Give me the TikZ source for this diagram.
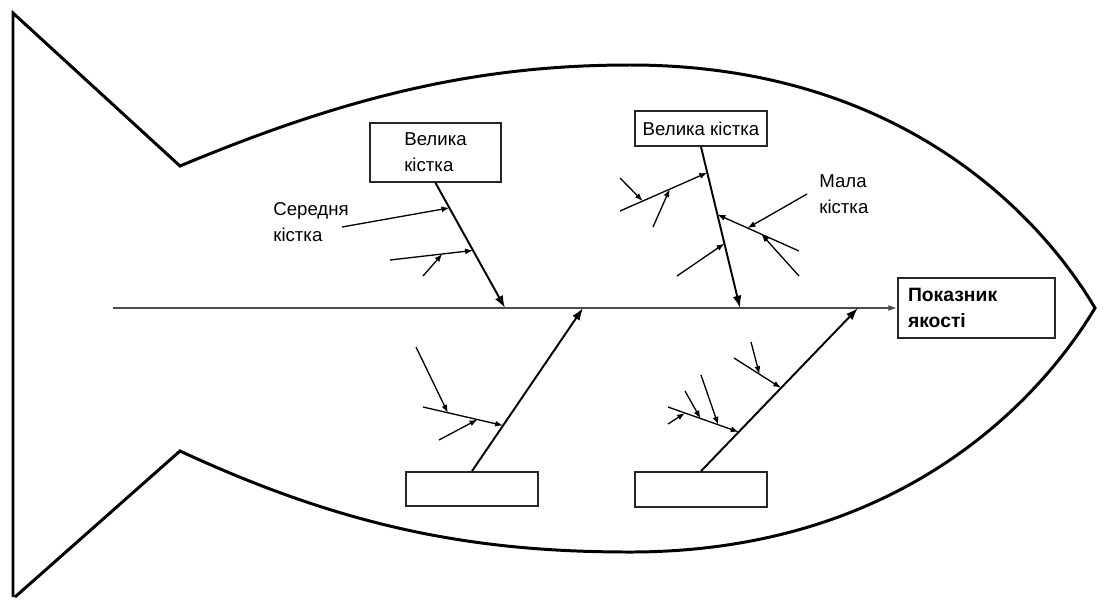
\documentclass[tikz,border=0pt]{standalone}
\usepackage{fontspec}
\setmainfont{Liberation Sans}
\usepackage{tikz}
\usetikzlibrary{arrows.meta, positioning, calc}

\begin{document}
\begin{tikzpicture}[x=0.02cm, y=-0.02cm, font=\fontsize{10.6}{15}\selectfont,
    outline/.style={line width=1.7pt, line join=miter},
    bone/.style={line width=1.1pt, -{Latex[length=7pt,width=5pt]}},
    twig/.style={line width=0.75pt, -{Latex[length=4.5pt,width=3.4pt]}},
    box/.style={draw=black!85, line width=1pt, inner sep=0pt},
    lbl/.style={anchor=west, align=left, inner sep=0pt}]
    \useasboundingbox (0,0) rectangle (1104,599);
    % Fish outline
    \draw[outline] (13,597) -- (13,13) -- (180,166)
        .. controls (350,95) and (480,65) .. (630,65)
        .. controls (900,65) and (1040,215) .. (1095,308)
        .. controls (1040,400) and (900,552) .. (630,552)
        .. controls (480,552) and (350,530) .. (180,451)
        -- (15,597);
    % Head and spine
    \node[box, font=\bfseries\fontsize{11}{15}\selectfont, align=left, text width=2.74cm,
        inner xsep=0.2cm, minimum height=1.2cm] (kpi) at (976.5,308) {Показник\\якості};
    \coordinate (tail) at (113,308);
    \draw[line width=1.1pt, black!70, -{Latex[length=5pt,width=3.5pt]}] (tail) -- (kpi.west);
    % Big bones
    \node[box, minimum width=2.62cm, minimum height=1.18cm, align=left] (big1) at (435.5,152.5) {Велика\\кістка};
    \node[box, minimum width=2.64cm, minimum height=0.7cm] (big2) at (701,128.5) {Велика кістка};
    \node[box, minimum width=2.64cm, minimum height=0.68cm] (big3) at (472,489) {};
    \node[box, minimum width=2.64cm, minimum height=0.7cm] (big4) at (701,489.5) {};
    \coordinate (s1) at (505,308);
    \coordinate (s2) at (740,308);
    \coordinate (s3) at (583,308);
    \coordinate (s4) at (858,308);
    \draw[bone] (big1.south) -- (s1);
    \draw[bone] (big2.south) -- (s2);
    \draw[bone] (big3.north) -- (s3);
    \draw[bone] (big4.north) -- (s4);
    % Labels
    \node[lbl] (midlbl) at (273,222) {Середня\\кістка};
    \node[lbl] (smalllbl) at (819,194) {Мала\\кістка};
    % Upper left bone
    \coordinate (a) at ($(big1.south)!0.2!(s1)$);
    \coordinate (as) at (342,227);
    \coordinate (b) at ($(big1.south)!0.54!(s1)$);
    \coordinate (bs) at (390,260);
    \coordinate (b1s) at (423,276);
    \draw[twig] (as) -- (a);
    \draw[twig] (bs) -- (b);
    \draw[twig] (b1s) -- ($(bs)!0.63!(b)$);
    % Upper right bone
    \coordinate (c) at ($(big2.south)!0.16!(s2)$);
    \coordinate (cs) at (620,211);
    \coordinate (d) at ($(big2.south)!0.42!(s2)$);
    \coordinate (ds) at (799,251);
    \coordinate (e) at ($(big2.south)!0.6!(s2)$);
    \coordinate (es) at (677,276);
    \coordinate (c1s) at (620,178);
    \coordinate (c2s) at (653,227);
    \coordinate (d1s) at (807,194);
    \coordinate (d2s) at (799,276);
    \draw[twig] (cs) -- (c);
    \draw[twig] (ds) -- (d);
    \draw[twig] (es) -- (e);
    \draw[twig] (c1s) -- ($(cs)!0.26!(c)$);
    \draw[twig] (c2s) -- ($(cs)!0.57!(c)$);
    \draw[twig] (d1s) -- ($(ds)!0.63!(d)$);
    \draw[twig] (d2s) -- ($(ds)!0.46!(d)$);
    % Lower left bone
    \coordinate (f) at ($(big3.north)!0.28!(s3)$);
    \coordinate (fs) at (423,407);
    \coordinate (f1s) at (416,347);
    \coordinate (f2s) at (439,440);
    \draw[twig] (fs) -- (f);
    \draw[twig] (f1s) -- ($(fs)!0.31!(f)$);
    \draw[twig] (f2s) -- ($(fs)!0.68!(f)$);
    % Lower right bone
    \coordinate (g) at ($(big4.north)!0.51!(s4)$);
    \coordinate (gs) at (734,358);
    \coordinate (g1s) at (751,342);
    \coordinate (h) at ($(big4.north)!0.24!(s4)$);
    \coordinate (hs) at (668,407);
    \draw[twig] (gs) -- (g);
    \draw[twig] (g1s) -- ($(gs)!0.54!(g)$);
    \draw[twig] (hs) -- (h);
    \foreach \st/\t in {{(685,391)}/0.46, {(701,375)}/0.71, {(668,424)}/0.24}
        \draw[twig] \st -- ($(hs)!\t!(h)$);
\end{tikzpicture}
\end{document}
